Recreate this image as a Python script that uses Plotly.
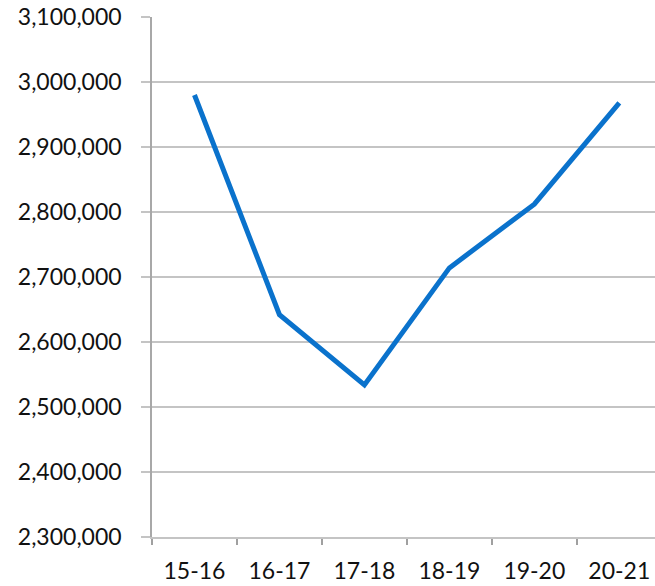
import plotly.graph_objects as go

# Fiscal years and totals
years = ["15-16", "16-17", "17-18", "18-19", "19-20", "20-21"]
totals = [2980000, 2642000, 2534000, 2714000, 2812000, 2968000]

y_ticks = [2300000, 2400000, 2500000, 2600000, 2700000, 2800000, 2900000, 3000000, 3100000]
y_tick_text = ["2,300,000", "2,400,000", "2,500,000", "2,600,000", "2,700,000",
               "2,800,000", "2,900,000", "3,000,000", "3,100,000"]

grid_col = "#c4c4c4"
font_family = "Lato, 'Open Sans', sans-serif"

fig = go.Figure()
fig.add_trace(go.Scatter(
    x=years, y=totals, mode="lines",
    line=dict(color="#0a72cc", width=5),
    hoverinfo="skip",
))

fig.update_layout(
    width=655, height=586,
    margin=dict(l=152, r=0, t=17, b=49),
    paper_bgcolor="white", plot_bgcolor="white",
    showlegend=False,
    font=dict(family=font_family, size=23, color="#111111"),
)

fig.update_xaxes(
    type="category",
    range=[-0.5, 5.42],
    tickson="boundaries",
    ticks="outside", ticklen=6, tickcolor="#a0a0a0", tickwidth=1.5,
    showgrid=False,
    showline=True, linecolor=grid_col, linewidth=1.5,
    tickfont=dict(size=23),
    ticklabelstandoff=13,
)

fig.update_yaxes(
    range=[2300000, 3100000],
    tickvals=y_ticks, ticktext=y_tick_text,
    ticks="outside", ticklen=9, tickcolor=grid_col, tickwidth=1.5,
    showgrid=True, gridcolor=grid_col, gridwidth=1.5,
    showline=True, linecolor="#a8a8a8", linewidth=1.5,
    zeroline=False,
    tickfont=dict(size=23),
    ticklabelstandoff=15,
)

fig.write_html("out.html")
